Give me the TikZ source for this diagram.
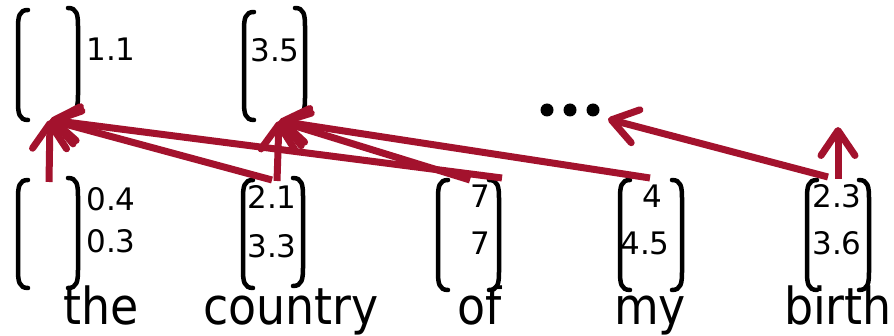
\documentclass[tikz,border=0pt]{standalone}
\usepackage{fontspec}
\setmainfont{DejaVu Sans}
\newfontfamily\wordfont[FakeStretch=0.9]{DejaVu Sans}
\usetikzlibrary{arrows.meta}
\definecolor{arrowred}{HTML}{A3122D}

% bracket halves of a column vector: x, top y, bottom y
\newcommand\lbrk[3]{\draw[brk] ({#1+10},#2) .. controls ({#1+1},#2) and (#1,{#2+7}) .. (#1,{#2+18}) -- (#1,{#3-18}) .. controls (#1,{#3-7}) and ({#1+1},#3) .. ({#1+10},#3);}
\newcommand\rbrk[3]{\draw[brk] ({#1-10},#2) .. controls ({#1-1},#2) and (#1,{#2+7}) .. (#1,{#2+18}) -- (#1,{#3-18}) .. controls (#1,{#3-7}) and ({#1-1},#3) .. ({#1-10},#3);}

\tikzset{
  brk/.style={black, line width=4.5pt, line cap=round},
  num/.style={inner sep=0pt, font=\fontsize{31}{36}\selectfont},
  word/.style={inner sep=0pt, anchor=base, font=\wordfont\fontsize{51}{56}\selectfont},
  link/.style={arrowred, line width=7pt, -{Straight Barb[round, length=25pt, width=34pt]}},
}

\begin{document}
\begin{tikzpicture}[x=1pt, y=-1pt]
\useasboundingbox (0,0) rectangle (894,336);

% upper row of vectors
\lbrk{18}{10}{120} \rbrk{78}{8}{113}
\node[num] (v11) at (111,49) {1.1};
\lbrk{244}{12}{120} \rbrk{305}{8}{116}
\node[num] (v35) at (275,50) {3.5};
\foreach \x in {547,570,593}
  \fill (\x,110) circle (6.5pt);

% word vectors
\lbrk{18}{180}{288} \rbrk{78}{178}{288}
\node[num] (a1) at (111,199) {0.4};
\node[num] (a2) at (111,241) {0.3};
\lbrk{243}{180}{288} \rbrk{303}{178}{286}
\node[num] (b1) at (272,197) {2.1};
\node[num] (b2) at (272,246) {3.3};
\lbrk{438}{180}{290} \rbrk{499}{180}{290}
\node[num] (c1) at (480,196) {7};
\node[num] (c2) at (480,243) {7};
\lbrk{620}{180}{290} \rbrk{682}{180}{290}
\node[num] (d1) at (652,196) {4};
\node[num] (d2) at (645,243) {4.5};
\lbrk{807}{180}{290} \rbrk{869}{180}{290}
\node[num] (e1) at (837,196) {2.3};
\node[num] (e2) at (837,243) {3.6};

% words
\node[word] (the) at (101,325) {the};
\node[word] (country) at (291,325) {country};
\node[word] (of) at (480,325) {of};
\node[word] (my) at (650,325) {my};
\node[word] (birth) at (838,325) {birth};

% connector ends
\coordinate (tipA) at (50,120);
\coordinate (tipB) at (279,121);
\coordinate (tipD) at (608,119);
\coordinate (tipE) at (838,127);
\coordinate (sThe) at (49,182);
\coordinate (sCountryA) at (272,180);
\coordinate (sCountryB) at (277,181);
\coordinate (sOfB) at (470,180);
\coordinate (sOfA) at (502,178);
\coordinate (sMy) at (650,178);
\coordinate (sBirthD) at (828,177);
\coordinate (sBirthE) at (838,179);

% composition arrows
\draw[link] (sThe) -- (tipA);
\draw[link] (sCountryA) -- (tipA);
\draw[link] (sOfA) -- (tipA);
\draw[link] (sCountryB) -- (tipB);
\draw[link] (sOfB) -- (tipB);
\draw[link] (sMy) -- (tipB);
\draw[link] (sBirthD) -- (tipD);
\draw[link] (sBirthE) -- (tipE);
\end{tikzpicture}
\end{document}
